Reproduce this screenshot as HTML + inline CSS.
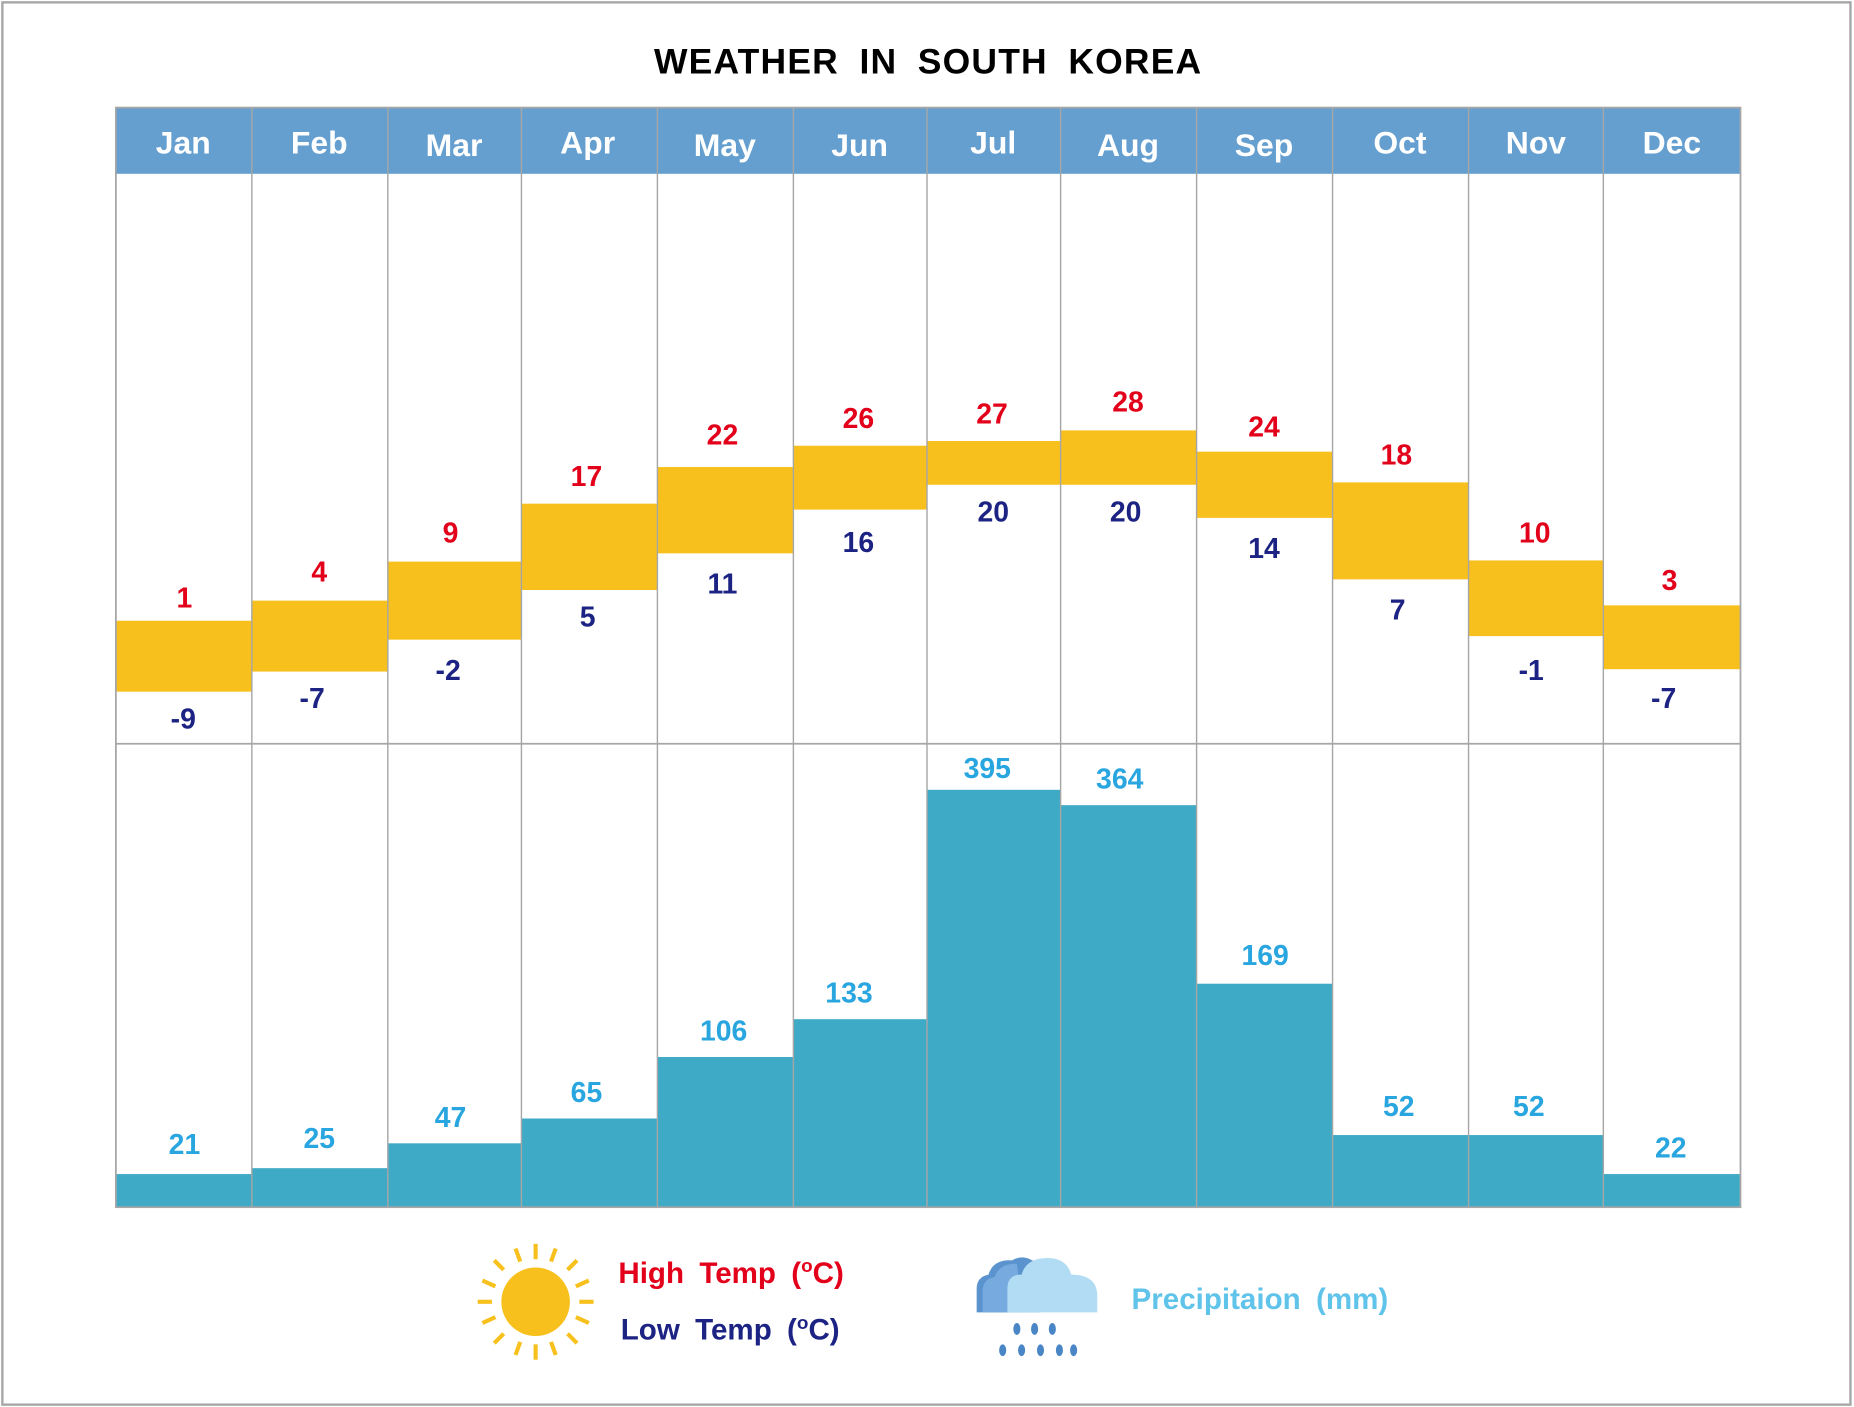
<!DOCTYPE html>
<html><head><meta charset="utf-8"><style>html,body{margin:0;padding:0;background:#fff}svg{display:block}</style></head>
<body>
<svg width="1854" height="1407" viewBox="0 0 1568 1190" preserveAspectRatio="none" font-family="'Liberation Sans',sans-serif" font-weight="bold">
<rect x="2" y="2" width="1563" height="1186" fill="#fff" stroke="#a6a6a6" stroke-width="2"/>
<text x="785" y="62" text-anchor="middle" font-size="30" fill="#000" letter-spacing="1" word-spacing="8">WEATHER IN SOUTH KOREA</text>
<rect x="98" y="91" width="1374" height="56" fill="#659fd0"/>
<g fill="#f8c01d">
<rect x="98" y="525" width="115" height="60"/><rect x="213" y="508" width="115" height="60"/><rect x="328" y="475" width="113" height="66"/><rect x="441" y="426" width="115" height="73"/><rect x="556" y="395" width="115" height="73"/><rect x="671" y="377" width="113" height="54"/><rect x="784" y="373" width="113" height="37"/><rect x="897" y="364" width="115" height="46"/><rect x="1012" y="382" width="115" height="56"/><rect x="1127" y="408" width="115" height="82"/><rect x="1242" y="474" width="114" height="64"/><rect x="1356" y="512" width="116" height="54"/>
</g>
<g fill="#3eaac6">
<rect x="98" y="993" width="115" height="28"/><rect x="213" y="988" width="115" height="33"/><rect x="328" y="967" width="113" height="54"/><rect x="441" y="946" width="115" height="75"/><rect x="556" y="894" width="115" height="127"/><rect x="671" y="862" width="113" height="159"/><rect x="784" y="668" width="113" height="353"/><rect x="897" y="681" width="115" height="340"/><rect x="1012" y="832" width="115" height="189"/><rect x="1127" y="960" width="115" height="61"/><rect x="1242" y="960" width="114" height="61"/><rect x="1356" y="993" width="116" height="28"/>
</g>
<rect x="98" y="91" width="1374" height="930" fill="none" stroke="#a6a6a6" stroke-width="1.5"/>
<line x1="98" y1="629" x2="1472" y2="629" stroke="#a6a6a6" stroke-width="1.5"/>
<g stroke="#a6a6a6" stroke-width="1.2">
<line x1="213" y1="91" x2="213" y2="1021"/><line x1="328" y1="91" x2="328" y2="1021"/><line x1="441" y1="91" x2="441" y2="1021"/><line x1="556" y1="91" x2="556" y2="1021"/><line x1="671" y1="91" x2="671" y2="1021"/><line x1="784" y1="91" x2="784" y2="1021"/><line x1="897" y1="91" x2="897" y2="1021"/><line x1="1012" y1="91" x2="1012" y2="1021"/><line x1="1127" y1="91" x2="1127" y2="1021"/><line x1="1242" y1="91" x2="1242" y2="1021"/><line x1="1356" y1="91" x2="1356" y2="1021"/>
</g>
<g fill="#fff" font-size="27" text-anchor="middle">
<text x="155" y="130">Jan</text><text x="270" y="130">Feb</text><text x="384" y="132">Mar</text><text x="497" y="130">Apr</text><text x="613" y="132">May</text><text x="727" y="132">Jun</text><text x="840" y="130">Jul</text><text x="954" y="132">Aug</text><text x="1069" y="132">Sep</text><text x="1184" y="130">Oct</text><text x="1299" y="130">Nov</text><text x="1414" y="130">Dec</text>
</g>
<g fill="#e2001a" font-size="24" text-anchor="middle">
<text x="156" y="514">1</text><text x="270" y="492">4</text><text x="381" y="459">9</text><text x="496" y="411">17</text><text x="611" y="376">22</text><text x="726" y="362">26</text><text x="839" y="358">27</text><text x="954" y="348">28</text><text x="1069" y="369">24</text><text x="1181" y="393">18</text><text x="1298" y="459">10</text><text x="1412" y="499">3</text>
</g>
<g fill="#1c2383" font-size="24" text-anchor="middle">
<text x="155" y="616">-9</text><text x="264" y="599">-7</text><text x="379" y="575">-2</text><text x="497" y="530">5</text><text x="611" y="502">11</text><text x="726" y="467">16</text><text x="840" y="441">20</text><text x="952" y="441">20</text><text x="1069" y="472">14</text><text x="1182" y="524">7</text><text x="1295" y="575">-1</text><text x="1407" y="599">-7</text>
</g>
<g fill="#29a6df" font-size="24" text-anchor="middle">
<text x="156" y="976">21</text><text x="270" y="971">25</text><text x="381" y="953">47</text><text x="496" y="932">65</text><text x="612" y="880">106</text><text x="718" y="848">133</text><text x="835" y="658">395</text><text x="947" y="667">364</text><text x="1070" y="816">169</text><text x="1183" y="944">52</text><text x="1293" y="944">52</text><text x="1413" y="979">22</text>
</g>
<circle cx="453" cy="1101" r="29" fill="#f8c01d"/>
<g stroke="#f8c01d" stroke-width="3.5" stroke-linecap="butt">
<line x1="453" y1="1052" x2="453" y2="1065"/><line x1="453" y1="1137" x2="453" y2="1150"/><line x1="404" y1="1101" x2="416" y2="1101"/><line x1="490" y1="1101" x2="502" y2="1101"/>
<line x1="418" y1="1066" x2="426" y2="1074"/><line x1="480" y1="1128" x2="488" y2="1136"/><line x1="488" y1="1066" x2="480" y2="1074"/><line x1="426" y1="1128" x2="418" y2="1136"/>
<line x1="436" y1="1056" x2="440" y2="1067"/><line x1="470" y1="1056" x2="466" y2="1067"/><line x1="436" y1="1146" x2="440" y2="1135"/><line x1="470" y1="1146" x2="466" y2="1135"/>
<line x1="408" y1="1083" x2="419" y2="1088"/><line x1="408" y1="1119" x2="419" y2="1114"/><line x1="498" y1="1083" x2="487" y2="1088"/><line x1="498" y1="1119" x2="487" y2="1114"/>
</g>
<text x="523" y="1085" font-size="25" fill="#e2001a" word-spacing="6">High Temp (<tspan font-size="16" dy="-9">o</tspan><tspan dy="9">C)</tspan></text>
<text x="525" y="1133" font-size="25" fill="#1c2383" word-spacing="6">Low Temp (<tspan font-size="16" dy="-9">o</tspan><tspan dy="9">C)</tspan></text>
<g>
<path d="M826 1110 L826 1090 Q826 1080 836 1078 Q840 1065 856 1066 Q866 1060 876 1068 L880 1110 Z" fill="#5b93cf"/>
<path d="M831 1110 L831 1092 Q831 1082 841 1080 Q846 1068 860 1069 L866 1110 Z" fill="#77abdf"/>
<path d="M852 1110 L852 1090 Q852 1078 864 1078 Q868 1064 886 1064 Q902 1064 906 1078 Q928 1078 928 1096 L928 1110 Z" fill="#b1dcf4"/>
<g fill="#4a86c6">
<ellipse cx="860" cy="1124" rx="3" ry="5"/><ellipse cx="875" cy="1124" rx="3" ry="5"/><ellipse cx="890" cy="1124" rx="3" ry="5"/>
<ellipse cx="848" cy="1142" rx="3" ry="5"/><ellipse cx="864" cy="1142" rx="3" ry="5"/><ellipse cx="880" cy="1142" rx="3" ry="5"/><ellipse cx="896" cy="1142" rx="3" ry="5"/><ellipse cx="908" cy="1142" rx="3" ry="5"/>
</g>
</g>
<text x="957" y="1107" font-size="25" fill="#5fc3ea" word-spacing="6">Precipitaion (mm)</text>
</svg>
</body></html>
